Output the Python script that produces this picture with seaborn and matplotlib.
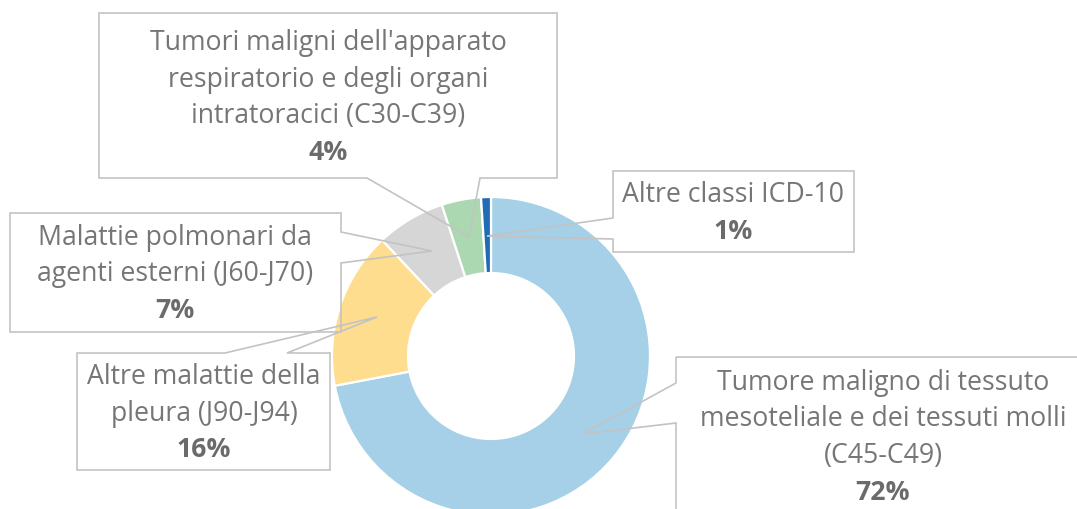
import matplotlib
matplotlib.use("Agg")
import matplotlib.pyplot as plt
from matplotlib.patches import Polygon
import seaborn as sns

sns.set_theme(style="white")
plt.rcParams['font.family'] = ['Open Sans', 'DejaVu Sans']

# ---- data ----
categories = [
    "Tumore maligno di tessuto\nmesoteliale e dei tessuti molli\n(C45-C49)",
    "Altre malattie della\npleura (J90-J94)",
    "Malattie polmonari da\nagenti esterni (J60-J70)",
    "Tumori maligni dell'apparato\nrespiratorio e degli organi\nintratoracici (C30-C39)",
    "Altre classi ICD-10",
]
values = [72, 16, 7, 4, 1]
pct_labels = ["72%", "16%", "7%", "4%", "1%"]
colors = ["#a5d0e8", "#ffdd8e", "#d6d6d6", "#acd8b1", "#1f6bb5"]

W, H = 1077, 509
fig = plt.figure(figsize=(W / 100, H / 100), dpi=100)
ax = fig.add_axes([0, 0, 1, 1])
ax.set_xlim(0, W)
ax.set_ylim(0, H)
ax.set_aspect('equal')
ax.axis('off')

def Y(y):
    return H - y

cx, cy, R = 491, 356, 159
ax.pie(values, colors=colors, startangle=90, counterclock=False,
       center=(cx, Y(cy)), radius=R, frame=True,
       wedgeprops=dict(width=76, edgecolor='white', linewidth=1.6))
ax.set_xlim(0, W)
ax.set_ylim(0, H)
ax.axis('off')

# callout shapes (image pixel coords)
callouts = {
    0: [(676, 357), (1100, 357), (1100, 560), (676, 560), (676, 423), (583, 434), (676, 383)],
    1: [(77, 353), (225, 353), (377, 317), (287, 353), (330, 353), (330, 470), (77, 470)],
    2: [(10, 213), (341, 213), (341, 232), (432, 251), (341, 263), (341, 332), (10, 332)],
    3: [(99, 13), (557, 13), (557, 178), (480, 178), (469, 237), (367, 178), (99, 178)],
    4: [(613, 171), (854, 171), (854, 252), (613, 252), (613, 239), (487, 236), (613, 218)],
}
# text anchors: (center x, first line y) in image coords
text_pos = {
    0: (883, 383),
    1: (204, 377),
    2: (175, 238),
    3: (328, 43),
    4: (733, 195),
}
line_h = 36.5
txt_color = "#767676"
pct_color = "#6b6b6b"
fs = 19.2

for i, pts in callouts.items():
    poly = Polygon([(x, Y(y)) for x, y in pts], closed=True, fill=False,
                   edgecolor="#c3c3c3", linewidth=1.2, zorder=5, clip_on=False)
    ax.add_patch(poly)
    lines = categories[i].split("\n")
    x0, y0 = text_pos[i]
    for k, ln in enumerate(lines):
        ax.text(x0, Y(y0 + k * line_h), ln, ha='center', va='center',
                fontsize=fs, color=txt_color, zorder=6)
    ax.text(x0, Y(y0 + len(lines) * line_h), pct_labels[i], ha='center', va='center',
            fontsize=fs, color=pct_color, fontweight='bold', zorder=6)

fig.savefig("out.png", dpi=100)
